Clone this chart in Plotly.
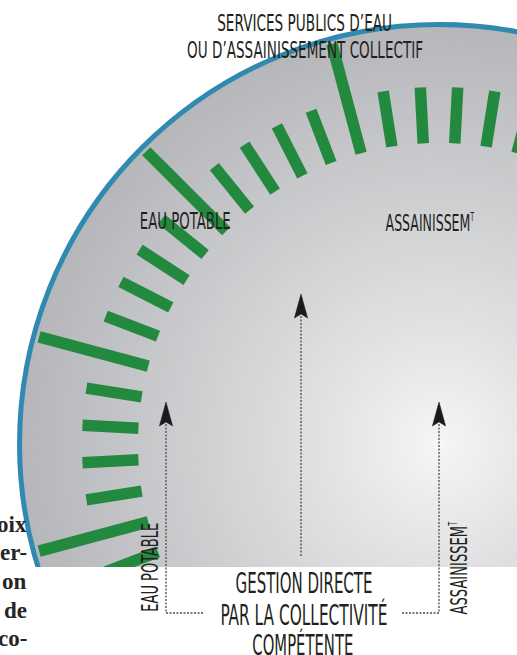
import math
import json
import plotly.graph_objects as go

# ---------------- data ----------------
major_tick_angles = [75, 105, 135, 165, 195]
minor_tick_angles = [81, 87, 93, 99, 111, 117, 123, 129, 141, 147, 153, 159,
                     171, 177, 183, 189, 201, 207]
arrow_x = [166, 301, 439]
arrow_tip_y = [402, 294, 402]
arrow_tail_y = [613, 556, 613]
bracket_end_x = [203, None, 402]
title_lines = ["SERVICES PUBLICS D’EAU", "OU D’ASSAINISSEMENT COLLECTIF"]
zone_labels = ["EAU POTABLE", "ASSAINISSEM<sup><span style='font-size:12px'>T</span></sup>"]
bottom_lines = ["GESTION DIRECTE", "PAR LA COLLECTIVITÉ", "COMPÉTENTE"]
side_text = ["oix", "er-", "on", "de", "co-"]

# ---------------- geometry / style ----------------
W, H = 517, 655
CX, CY, R = 439, 444, 419.5
CUT_Y = 567
GREEN = "#23893f"
BLUE = "#2f89b0"
INK = "#231f20"
COND = "Liberation Sans Narrow, DejaVu Sans Condensed, Liberation Sans, sans-serif"
SERIF = "Liberation Serif, DejaVu Serif, serif"

shapes = []

# radial gradient disc
light = (247, 247, 247)
dark = (182, 183, 187)
N = 70
for k in range(N):
    r = R * (1 - k / N)
    t = (r / R) ** 0.9
    c = tuple(round(light[i] + (dark[i] - light[i]) * t) for i in range(3))
    shapes.append(dict(type="circle", xref="x", yref="y",
                       x0=CX - r, x1=CX + r, y0=CY - r, y1=CY + r,
                       fillcolor="rgb(%d,%d,%d)" % c, line=dict(width=0)))

# ticks
def tick(angle, r0, r1):
    a = math.radians(angle)
    return dict(type="line", xref="x", yref="y",
                x0=CX + r0 * math.cos(a), y0=CY - r0 * math.sin(a),
                x1=CX + r1 * math.cos(a), y1=CY - r1 * math.sin(a),
                line=dict(color=GREEN, width=11.5))

for a in minor_tick_angles:
    shapes.append(tick(a, 301, 357))
for a in major_tick_angles:
    shapes.append(tick(a, 301, 414))

# blue rim
shapes.append(dict(type="circle", xref="x", yref="y",
                   x0=CX - R, x1=CX + R, y0=CY - R, y1=CY + R,
                   line=dict(color=BLUE, width=5), fillcolor="rgba(0,0,0,0)"))

# white band at the bottom
shapes.append(dict(type="rect", xref="x", yref="y", x0=-5, x1=W + 5,
                   y0=CUT_Y, y1=H + 5, fillcolor="white", line=dict(width=0)))

# arrows: dotted shafts + brackets + heads
DOT = dict(color="#4a4a4a", width=1.3, dash="2px,1.5px")
for x, tip, tail, bx in zip(arrow_x, arrow_tip_y, arrow_tail_y, bracket_end_x):
    shapes.append(dict(type="line", xref="x", yref="y", x0=x, x1=x,
                       y0=tip + 22, y1=tail, line=DOT))
    if bx is not None:
        shapes.append(dict(type="line", xref="x", yref="y", x0=x, x1=bx,
                           y0=tail, y1=tail, line=DOT))
    head = "M %f %f L %f %f L %f %f L %f %f Z" % (
        x, tip, x + 6.6, tip + 24, x, tip + 20, x - 6.6, tip + 24)
    shapes.append(dict(type="path", xref="x", yref="y", path=head,
                       fillcolor="#1a1a1a", line=dict(color="#1a1a1a", width=0.5)))

annotations = []
targets = {}

def cond(text, x, y, size, width, angle=0):
    targets[str(len(annotations))] = [width, "50% 50%"]
    annotations.append(dict(text=text, x=x, y=y, xref="x", yref="y",
                            showarrow=False, xanchor="center", yanchor="middle",
                            textangle=angle,
                            font=dict(family=COND, size=size, color=INK)))

cond(title_lines[0], 304.5, 22.5, 23, 175)
cond(title_lines[1], 305, 50, 23, 236)
cond(zone_labels[0], 185.5, 221, 23.5, 91)
cond(zone_labels[1], 429.5, 223, 23.5, 89)
cond(zone_labels[0], 150, 567.5, 23.5, 89, angle=-90)
cond(zone_labels[1], 458.5, 568.5, 23.5, 93, angle=-90)
cond(bottom_lines[0], 303.5, 583, 28, 137)
cond(bottom_lines[1], 303.5, 615, 28, 167)
cond(bottom_lines[2], 302.5, 645, 28, 101)

for i, s in enumerate(side_text):
    annotations.append(dict(text="<b>%s</b>" % s, x=29, y=524 + 28.7 * i,
                            xref="x", yref="y", showarrow=False,
                            xanchor="right", yanchor="middle",
                            font=dict(family=SERIF, size=23, color="#262626")))

fig = go.Figure(go.Scatter(x=[], y=[]))
fig.update_layout(
    width=W, height=H, margin=dict(l=0, r=0, t=0, b=0),
    paper_bgcolor="white", plot_bgcolor="white", showlegend=False,
    xaxis=dict(range=[0, W], visible=False, fixedrange=True),
    yaxis=dict(range=[H, 0], visible=False, fixedrange=True),
    shapes=shapes, annotations=annotations,
)

squeeze_js = """
document.body.style.margin = '0';
document.body.style.overflow = 'hidden';
var gd = document.getElementById('{plot_id}');
var targets = %s;
function squeeze(){
  gd.querySelectorAll('g.annotation').forEach(function(g){
    var spec = targets[g.getAttribute('data-index')];
    if(!spec) return;
    var t = g.querySelector('text.annotation-text');
    if(!t) return;
    t.style.transform = 'none';
    var w = t.getBBox().width;
    if(w > 0){
      t.style.transformBox = 'fill-box';
      t.style.transformOrigin = spec[1];
      t.style.transform = 'scaleX(' + (spec[0] / w) + ')';
    }
  });
}
squeeze();
gd.on('plotly_afterplot', squeeze);
""" % json.dumps(targets)

fig.write_html("out.html", config={"displayModeBar": False, "staticPlot": True},
               post_script=squeeze_js)
